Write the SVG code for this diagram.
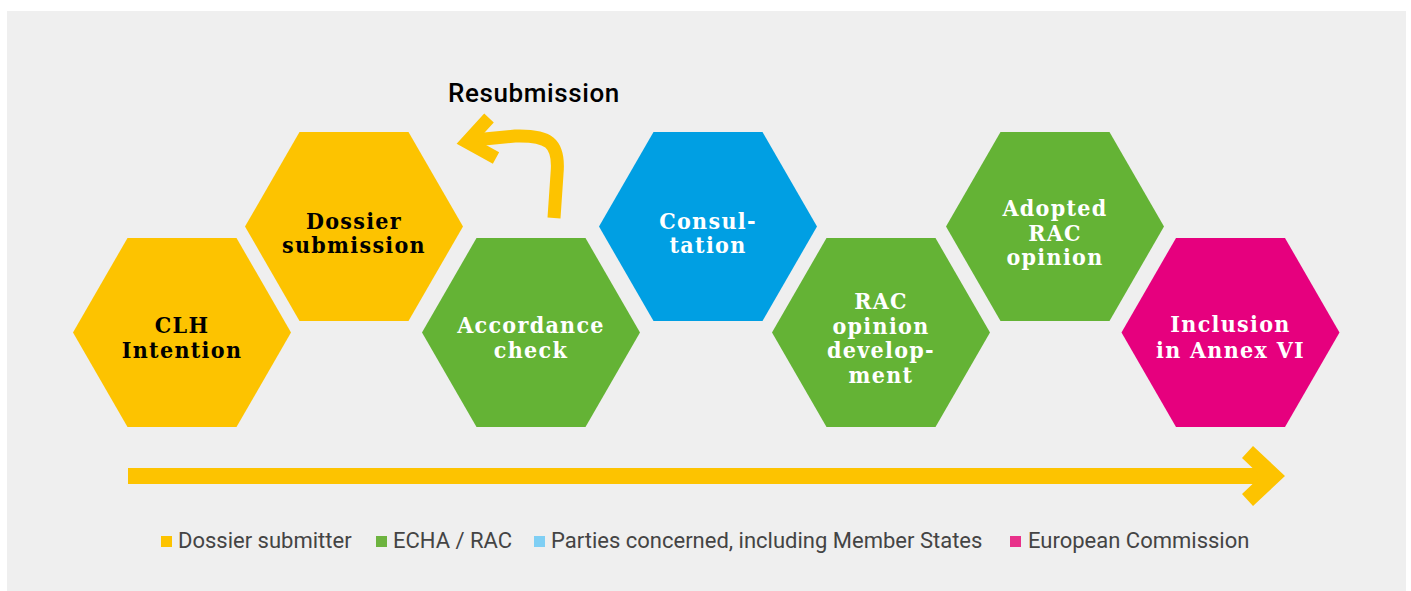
<svg xmlns="http://www.w3.org/2000/svg" width="1411" height="591" viewBox="0 0 1411 591">
<defs>
<style>
.hex-y{fill:#FDC300}
.hex-g{fill:#64B335}
.hex-b{fill:#009FE3}
.hex-m{fill:#E6007E}
.lbl{font-family:"DejaVu Serif Condensed","DejaVu Serif","Liberation Serif",serif;font-weight:bold;font-size:23px;letter-spacing:1.3px;text-anchor:middle}
.lbl-d{fill:#000}
.lbl-w{fill:#fff}
.leg{font-family:Roboto,"Liberation Sans",sans-serif;font-size:22px;fill:#444}
.arr{fill:none;stroke:#FDC300;stroke-width:13}
</style>
<polygon id="hexshape" points="-109,0 -54.5,-94.5 54.5,-94.5 109,0 54.5,94.5 -54.5,94.5"/>
</defs>
<rect x="0" y="0" width="1411" height="591" fill="#fff"/>
<rect x="7" y="11" width="1399" height="580" fill="#EFEFEF"/>

<g id="connectors">
<path class="arr" d="M554,218 L557,174 C560,142 548,135 515,136 L474,140"/>
<polyline class="arr" points="489,118 467,142 496,158" stroke-miterlimit="10"/>
<path d="M128,468 H1263 V484 H128 Z" fill="#FDC300"/>
<polygon points="1253,446 1285,476 1253,506 1242,494 1261,476 1242,458" fill="#FDC300"/>
</g>
<text x="448" y="102" font-family="Roboto,'Liberation Sans',sans-serif" font-weight="500" font-size="26" letter-spacing="0.6" fill="#000">Resubmission</text>

<g id="clh">
<use href="#hexshape" class="hex-y" x="182" y="332.5"/>
<text class="lbl lbl-d" x="182" y="332.5">CLH<tspan x="182" dy="25">Intention</tspan></text>
</g>
<g id="dossier">
<use href="#hexshape" class="hex-y" x="354" y="226.5"/>
<text class="lbl lbl-d" x="354" y="228.5">Dossier<tspan x="354" dy="24.5">submission</tspan></text>
</g>
<g id="accordance">
<use href="#hexshape" class="hex-g" x="531" y="332.5"/>
<text class="lbl lbl-w" x="531" y="333">Accordance<tspan x="531" dy="24.5">check</tspan></text>
</g>
<g id="consultation">
<use href="#hexshape" class="hex-b" x="708" y="226.5"/>
<text class="lbl lbl-w" x="708" y="228.5">Consul-<tspan x="708" dy="24.5">tation</tspan></text>
</g>
<g id="rac-opinion">
<use href="#hexshape" class="hex-g" x="881" y="332.5"/>
<text class="lbl lbl-w" x="881" y="309">RAC<tspan x="881" dy="24.5">opinion</tspan><tspan x="881" dy="24.5">develop-</tspan><tspan x="881" dy="24.5">ment</tspan></text>
</g>
<g id="adopted">
<use href="#hexshape" class="hex-g" x="1055" y="226.5"/>
<text class="lbl lbl-w" x="1055" y="216">Adopted<tspan x="1055" dy="24.5">RAC</tspan><tspan x="1055" dy="24.5">opinion</tspan></text>
</g>
<g id="inclusion">
<use href="#hexshape" class="hex-m" x="1230.5" y="332.5"/>
<text class="lbl lbl-w" x="1230.5" y="332">Inclusion<tspan x="1230.5" dy="25.5">in Annex VI</tspan></text>
</g>

<g id="legend">
<rect x="161" y="536" width="11" height="11" fill="#FDC300"/>
<text class="leg" x="178" y="548">Dossier submitter</text>
<rect x="376" y="536" width="11" height="11" fill="#6DB33F"/>
<text class="leg" x="393" y="548">ECHA / RAC</text>
<rect x="534" y="536" width="11" height="11" fill="#7FCFF4"/>
<text class="leg" x="551" y="548">Parties concerned, including Member States</text>
<rect x="1010" y="536" width="11" height="11" fill="#E8318A"/>
<text class="leg" x="1028" y="548">European Commission</text>
</g>
</svg>
